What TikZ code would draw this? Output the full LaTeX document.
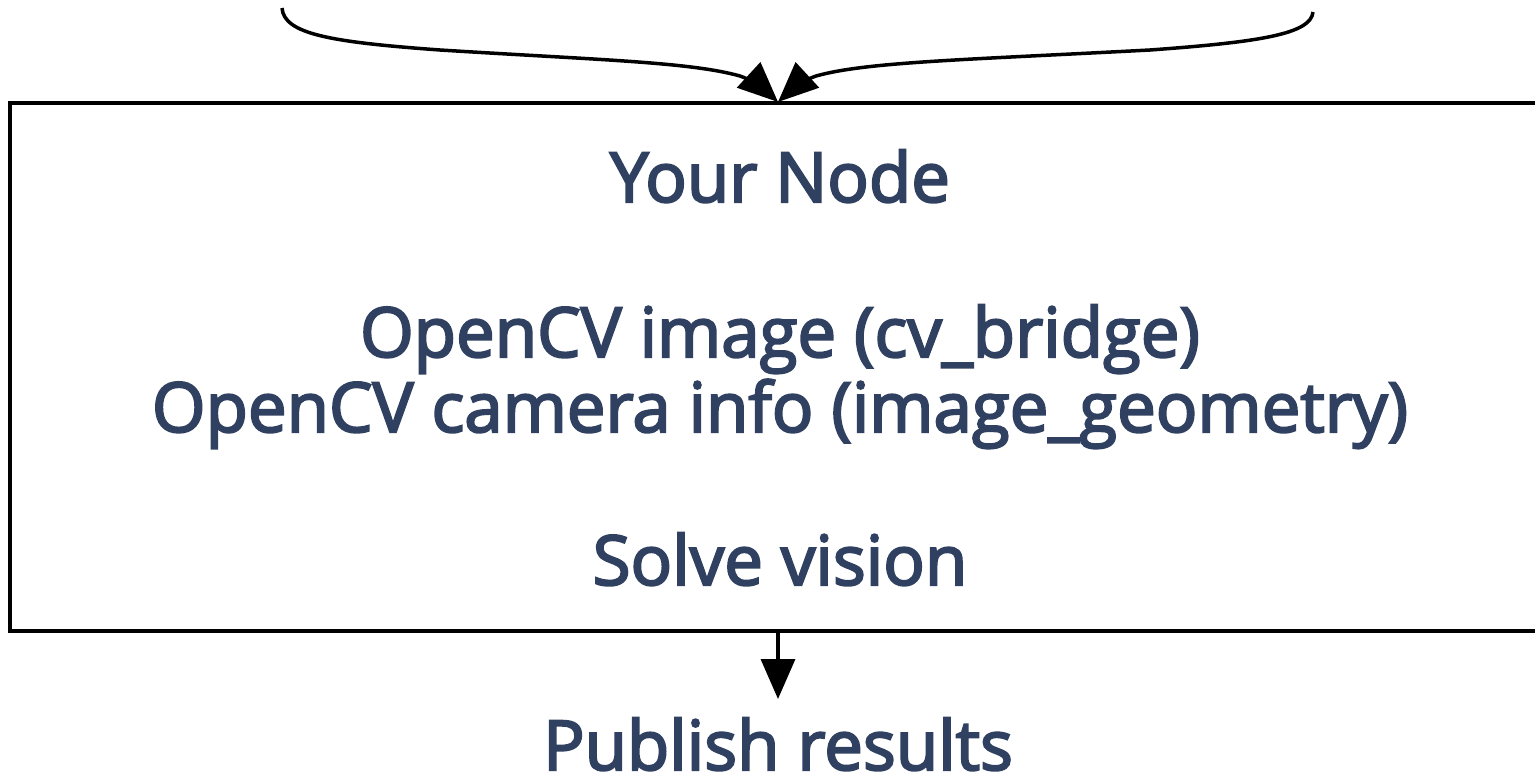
\documentclass[tikz,border=0pt]{standalone}
\usepackage{fontspec}
\setmainfont{Open Sans}[FakeBold=3]
\usetikzlibrary{arrows.meta}
\definecolor{txt}{HTML}{2F4060}
\begin{document}
\begin{tikzpicture}[x=1pt,y=-1pt,
  edge/.style={line width=3.5pt,-{Triangle[length=40pt,width=34pt]}},
  lbl/.style={anchor=base,text=txt,inner sep=0pt,font=\fontsize{69}{80}\selectfont},
  boxstyle/.style={draw,line width=3.5pt,rectangle,inner sep=0pt}]
\clip (0,0) rectangle (1535,776);
\useasboundingbox (0,0) rectangle (1535,776);
\node[boxstyle,minimum width=1536pt,minimum height=528pt] (yn) at (778,367) {};
\coordinate (l) at (282,8);
\coordinate (r) at (1313,12);
\coordinate (tip) at (778,102);
\node[lbl] (t1) at (780,202) {Your Node};
\node[lbl] (t2) at (780,357) {OpenCV image (cv\_bridge)};
\node[lbl] (t3) at (780,432) {OpenCV camera info (image\_geometry)};
\node[lbl] (t4) at (780,585) {Solve vision};
\node[lbl] (pub) at (778,770) {Publish results};
\coordinate (ptip) at (778,699);
\draw[edge] (l) .. controls (284,34) and (330,42) .. (440,50)
  .. controls (600,60) and (690,62) .. (740,76)
  .. controls (752,80) and (765,90) .. (tip);
\draw[edge] (r) .. controls (1311,34) and (1260,42) .. (1150,50)
  .. controls (960,60) and (866,62) .. (816,76)
  .. controls (804,80) and (791,90) .. (tip);
\draw[edge] (yn.south -| ptip) -- (ptip);
\end{tikzpicture}
\end{document}
